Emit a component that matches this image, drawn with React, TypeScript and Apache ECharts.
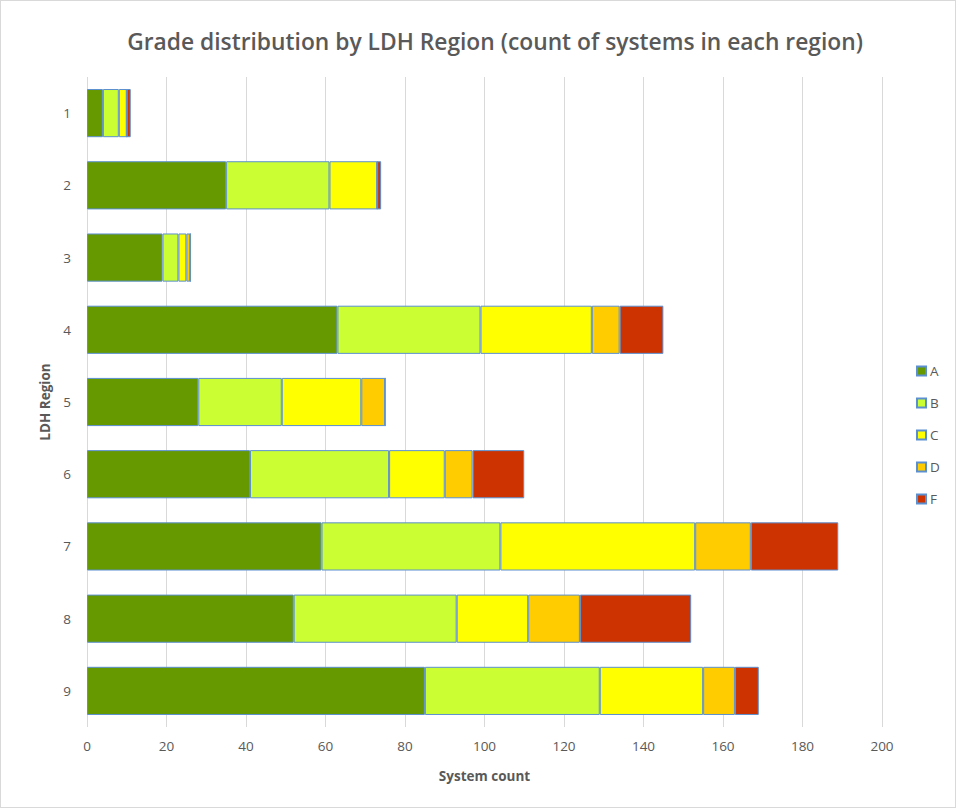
import React, { useEffect, useRef } from "react";
import * as echarts from "echarts";

const regions = ["1", "2", "3", "4", "5", "6", "7", "8", "9"];
const gradeA = [4, 35, 19, 63, 28, 41, 59, 52, 85];
const gradeB = [4, 26, 4, 36, 21, 35, 45, 41, 44];
const gradeC = [2, 12, 2, 28, 20, 14, 49, 18, 26];
const gradeD = [0, 0, 1, 7, 6, 7, 14, 13, 8];
const gradeF = [1, 1, 0, 11, 0, 13, 22, 28, 6];
const seriesNames = ["A", "B", "C", "D", "F"];
const seriesColors = ["#669900", "#CCFF33", "#FFFF00", "#FFCC00", "#CC3300"];

const FONT = "'Open Sans', sans-serif";

export default function App() {
  const ref = useRef<HTMLDivElement>(null);
  useEffect(() => {
    if (!ref.current) return;
    const chart = echarts.init(ref.current, undefined, { renderer: "svg" });
    const values = [gradeA, gradeB, gradeC, gradeD, gradeF];
    chart.setOption({
      animation: false,
      backgroundColor: "#ffffff",
      textStyle: { fontFamily: FONT },
      title: {
        text: "Grade distribution by LDH Region (count of systems in each region)",
        left: 489,
        textAlign: "center",
        top: 24,
        textStyle: { fontSize: 22.8, fontWeight: 600, color: "#595959", fontFamily: FONT },
      },
      legend: {
        orient: "vertical",
        left: 910,
        top: 358,
        itemWidth: 9,
        itemHeight: 9,
        itemGap: 18,
        icon: "rect",
        textStyle: { fontSize: 13.5, color: "#595959", fontFamily: FONT, padding: [0, 0, 0, -1] },
        data: seriesNames,
      },
      grid: { left: 86, right: 73, top: 76, bottom: 80 },
      xAxis: {
        type: "value",
        min: 0,
        max: 200,
        interval: 20,
        name: "System count",
        nameLocation: "middle",
        nameGap: 42,
        nameTextStyle: { fontSize: 13.5, fontWeight: "bold", color: "#595959", fontFamily: FONT },
        axisLine: { show: false },
        axisTick: { show: false },
        axisLabel: { fontSize: 13.5, color: "#595959", margin: 12, fontFamily: FONT },
        splitLine: { lineStyle: { color: "#d9d9d9", width: 1 } },
      },
      yAxis: {
        type: "category",
        data: regions,
        inverse: true,
        name: "LDH Region",
        nameLocation: "middle",
        nameGap: 34,
        nameRotate: 90,
        nameTextStyle: { fontSize: 13.5, fontWeight: "bold", color: "#595959", fontFamily: FONT },
        axisLine: { show: false },
        axisTick: { show: false },
        axisLabel: { fontSize: 13.5, color: "#595959", margin: 16, fontFamily: FONT },
      },
      series: seriesNames.map((name, i) => ({
        name,
        type: "bar",
        stack: "total",
        barCategoryGap: "33.3%",
        data: values[i],
        itemStyle: { color: seriesColors[i], borderColor: "#5B8FD0", borderWidth: 1 },
      })),
    });
    return () => chart.dispose();
  }, []);
  return (
    <div
      ref={ref}
      style={{
        position: "fixed",
        left: 0,
        top: 0,
        width: 956,
        height: 808,
        boxSizing: "border-box",
        border: "1px solid #d9d9d9",
      }}
    />
  );
}
